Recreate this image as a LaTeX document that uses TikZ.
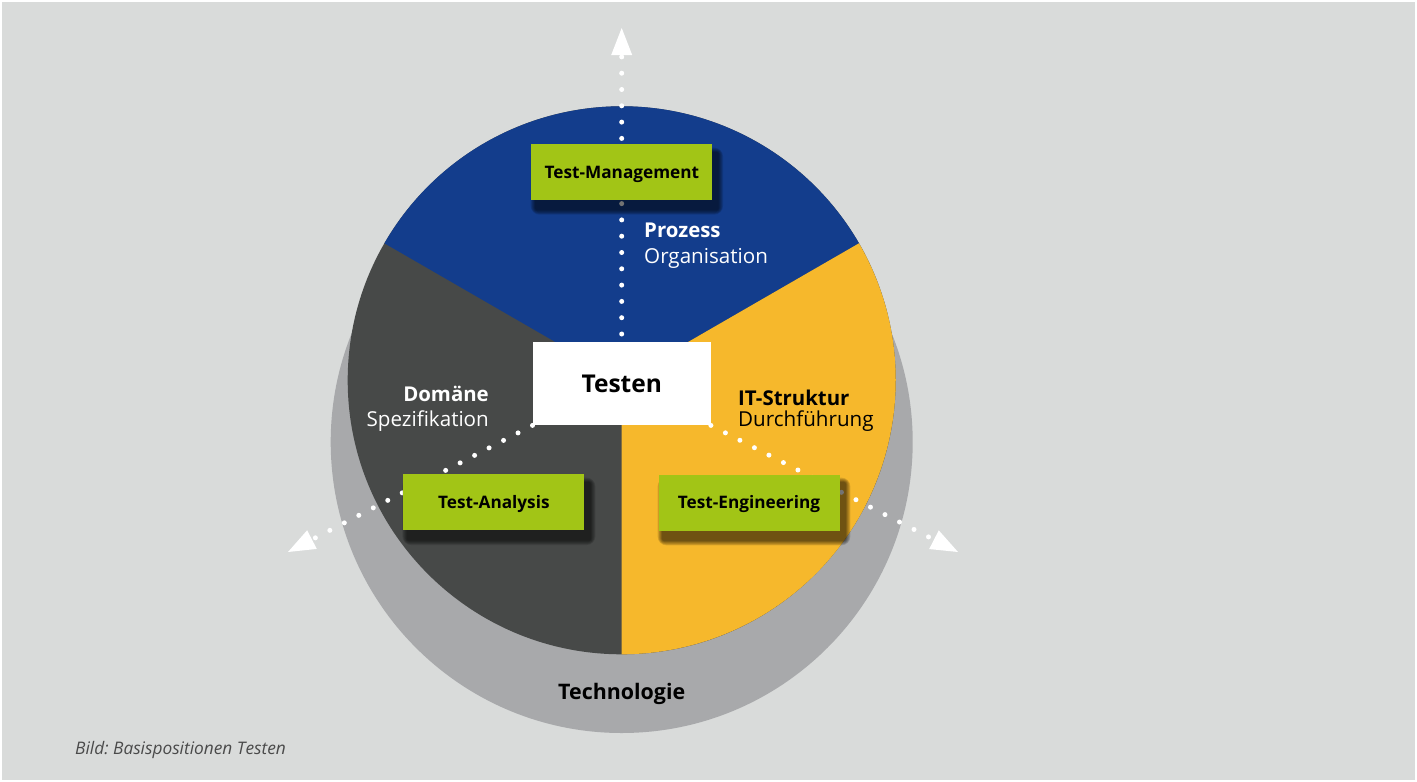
\documentclass[tikz,border=0pt]{standalone}
\usepackage{fontspec}
\setmainfont{Open Sans}
\usetikzlibrary{calc}
\frenchspacing
\definecolor{bg}{HTML}{D9DBDA}
\definecolor{ringgray}{HTML}{A8A9AB}
\definecolor{darkseg}{HTML}{474948}
\definecolor{blueseg}{HTML}{133D8C}
\definecolor{yellowseg}{HTML}{F6B82C}
\definecolor{greenbox}{HTML}{A2C516}
\definecolor{captiongray}{HTML}{4A4A4A}
\newcommand{\softshadow}[4]{% x1 y1 x2 y2 of box
  \foreach \e in {9,7.5,6,4.5,3,1.5}{
    \fill[black,opacity=0.12,rounded corners=\e pt]
      ({#1+5-\e*0.6},{#2+9-\e*0.6}) rectangle ({#3+5+\e*0.6},{#4+9+\e*0.6});
  }}
\begin{document}
\begin{tikzpicture}[x=1pt,y=-1pt,
  dotline/.style={draw=white,line width=5pt,line cap=round,dash pattern=on 0pt off 16.3pt},
  gbox/.style={fill=greenbox,minimum width=181pt,minimum height=56pt,inner sep=0pt,
    text height=12.3pt,text depth=0pt,
    font=\bfseries\fontsize{17.2}{20}\selectfont,text=black},
  lbl/.style={inner sep=0pt,font=\fontsize{20.6}{24}\selectfont},
  blbl/.style={inner sep=0pt,font=\bfseries\fontsize{20.4}{24}\selectfont}]
\useasboundingbox (0,0) rectangle (1417,782);
\fill[white] (0,0) rectangle (1417,782);
\fill[bg] (2,2) rectangle (1415,780);
% technology disk
\fill[ringgray] (621.7,442) circle (291);
% pie
\coordinate (c) at (621.7,380.3);
\fill[darkseg] (c) circle (274);
\fill[blueseg] (c) -- +(210:274) arc[start angle=210,end angle=330,radius=274] -- cycle;
\fill[yellowseg] (c) -- +(-30:274) arc[start angle=-30,end angle=90,radius=274] -- cycle;
% central box position (drawn later on top)
\path (621.7,383.7) node[minimum width=178pt,minimum height=83pt,inner sep=0pt] (tpos) {};
% arrow tips
\coordinate (tipT) at (621.7,28);
\coordinate (tipL) at (288,552);
\coordinate (tipR) at (958,552);
\coordinate (startT) at ($(tpos.north)+(0,-8)$);
\coordinate (baseT) at ($(tipT)!27pt!(startT)$);
\coordinate (baseL) at ($(tipL)!27pt!(tpos.south west)$);
\coordinate (baseR) at ($(tipR)!27pt!(tpos.south east)$);
% dotted connectors
\draw[dotline] (startT) -- (baseT);
\draw[dotline] (tpos.south west) -- (baseL);
\draw[dotline] (tpos.south east) -- (baseR);
% arrow heads
\fill[white] (tipT) -- ($(baseT)!10.5pt!90:(tipT)$) -- ($(baseT)!10.5pt!-90:(tipT)$) -- cycle;
\fill[white] (tipL) -- ($(baseL)!10.5pt!90:(tipL)$) -- ($(baseL)!10.5pt!-90:(tipL)$) -- cycle;
\fill[white] (tipR) -- ($(baseR)!10.5pt!90:(tipR)$) -- ($(baseR)!10.5pt!-90:(tipR)$) -- cycle;
% shadows
\softshadow{531}{144}{712.7}{200.3}
\softshadow{402.7}{474}{585}{530.7}
\softshadow{658}{474}{840}{531}
% green boxes
\node[gbox] (mgmt) at (621.85,172.2) {Test-Management};
\node[gbox] (analysis) at (493.85,502.4) {Test-Analysis};
\node[gbox] (engineering) at (749,502.5) {Test-Engineering};
% central box
\node[fill=white,minimum width=178pt,minimum height=83pt,inner sep=0pt,
  text height=17.5pt,text depth=0pt,
  font=\bfseries\fontsize{24.5}{28}\selectfont] (testen) at (621.7,383.7) {Testen};
% labels
\node[blbl,anchor=base west,text=white] (prozess) at (644,237.3) {Prozess};
\node[lbl,anchor=base west,text=white] (organisation) at (644,263.3) {Organisation};
\node[blbl,anchor=base east,text=white] (domaene) at (489,401.7) {Domäne};
\node[lbl,anchor=base east,text=white] (spez) at (489,426.7) {Spezifikation};
\node[blbl,anchor=base west,text=black] (itstruktur) at (738,405) {IT-Struktur};
\node[lbl,anchor=base west,text=black] (durch) at (738,426.7) {Durchführung};
\node[inner sep=0pt,anchor=base,text=black,font=\bfseries\fontsize{21.4}{24}\selectfont] (techno) at (621.7,699) {Technologie};
\node[inner sep=0pt,anchor=base west,text=captiongray,font=\itshape\fontsize{17.3}{20}\selectfont] (caption) at (75,754.3) {Bild: Basispositionen Testen};
\end{tikzpicture}
\end{document}
